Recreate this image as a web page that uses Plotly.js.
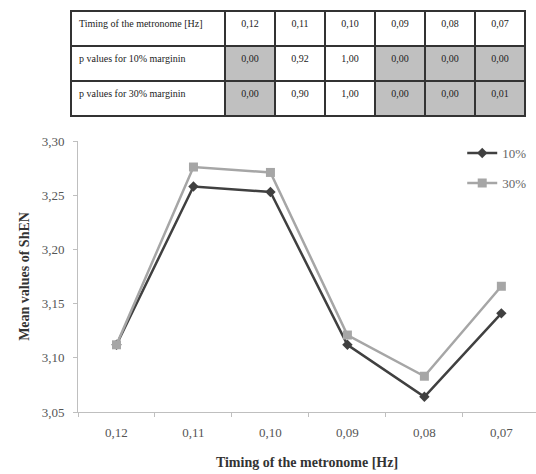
<!DOCTYPE html>
<html><head><meta charset="utf-8">
<script src="https://cdn.plot.ly/plotly-3.0.1.min.js"></script>
<style>html,body{margin:0;padding:0;background:#fff}#chart{width:536px;height:474px}</style>
</head><body><div id="chart"></div>
<script>
const categories = ["0,12", "0,11", "0,10", "0,09", "0,08", "0,07"];
const series10 = [3.112, 3.258, 3.253, 3.112, 3.064, 3.141];
const series30 = [3.112, 3.276, 3.271, 3.121, 3.083, 3.166];
const pValues10 = [0.00, 0.92, 1.00, 0.00, 0.00, 0.00];
const pValues30 = [0.00, 0.90, 1.00, 0.00, 0.00, 0.01];
const seriesNames = ["10%", "30%"];
const tableHeaderLabel = "Timing of the metronome [Hz]";
const rowLabels = ["p values for 10% marginin", "p values for 30% marginin"];

const fmt = v => v.toFixed(2).replace(".", ",");
const fillFor = v => v < 0.05 ? "#c0c0c0" : "#ffffff";

const headerValues = [tableHeaderLabel].concat(categories);
const cellValues = [rowLabels].concat(categories.map((c, i) => [fmt(pValues10[i]), fmt(pValues30[i])]));
const cellFills = [["#ffffff", "#ffffff"]].concat(categories.map((c, i) => [fillFor(pValues10[i]), fillFor(pValues30[i])]));
const aligns = ["left"].concat(categories.map(() => "center"));

const W = 536, H = 474;
const mL = 60, mR = 0, mT = 11, mB = 62;
const pw = W - mL - mR, ph = H - mT - mB;
const tableFont = {family: "Liberation Serif", size: 10, color: "#222222"};

const traces = [
  {
    type: "table",
    domain: {x: [(71 - mL) / pw, (525 - mL) / pw], y: [(H - mB - 119) / ph, 1]},
    columnwidth: [154, 50, 50, 50, 50, 50, 50],
    header: {
      values: headerValues,
      height: 35,
      align: aligns,
      fill: {color: "#ffffff"},
      line: {color: "#333333", width: 1.5},
      font: tableFont
    },
    cells: {
      values: cellValues,
      height: 35,
      align: aligns,
      fill: {color: cellFills},
      line: {color: "#333333", width: 1.5},
      font: tableFont
    }
  },
  {
    type: "scatter", mode: "lines+markers", name: seriesNames[0], legendgroup: "a",
    x: categories, y: series10,
    line: {color: "#404040", width: 2.5},
    marker: {symbol: "diamond", size: 8, color: "#404040"}
  },
  {
    type: "scatter", mode: "lines+markers", name: seriesNames[1], legendgroup: "b",
    x: categories, y: series30,
    line: {color: "#a6a6a6", width: 2.5},
    marker: {symbol: "square", size: 9, color: "#a6a6a6"}
  }
];

const layout = {
  width: W, height: H,
  margin: {l: mL, r: mR, t: mT, b: mB},
  paper_bgcolor: "#fff", plot_bgcolor: "#fff",
  separators: ", ",
  font: {family: "Liberation Serif", size: 13, color: "#555"},
  showlegend: true,
  legend: {
    x: 0.845, y: 0.683, xanchor: "left", yanchor: "top",
    font: {family: "Liberation Serif", size: 13, color: "#666"},
    itemwidth: 30, tracegroupgap: 10, bgcolor: "rgba(0,0,0,0)"
  },
  xaxis: {
    type: "category", domain: [(78 - mL) / pw, 1],
    range: [-0.5, 5.45],
    showgrid: false, zeroline: false,
    showline: true, linecolor: "#bfbfbf", linewidth: 1,
    ticks: "outside", tickson: "boundaries", ticklen: 4, tickcolor: "#bfbfbf",
    ticklabelstandoff: 8,
    tickfont: {family: "Liberation Serif", size: 13, color: "#555"},
    title: {text: "Timing of the metronome [Hz]", standoff: 18,
      font: {family: "Liberation Serif", size: 14, color: "#333", weight: "bold"}},
    automargin: false
  },
  yaxis: {
    domain: [0, (H - mB - 141) / ph],
    range: [3.05, 3.30], dtick: 0.05, tickformat: ".2f",
    showgrid: false, zeroline: false,
    showline: true, linecolor: "#bfbfbf", linewidth: 1,
    ticks: "outside", ticklen: 4, tickcolor: "#bfbfbf",
    ticklabelstandoff: 6,
    tickfont: {family: "Liberation Serif", size: 13, color: "#555"},
    title: {text: "Mean values of ShEN", standoff: 8,
      font: {family: "Liberation Serif", size: 14, color: "#333", weight: "bold"}},
    automargin: false
  }
};

Plotly.newPlot("chart", traces, layout, {displayModeBar: false, staticPlot: true});
</script>
</body></html>
